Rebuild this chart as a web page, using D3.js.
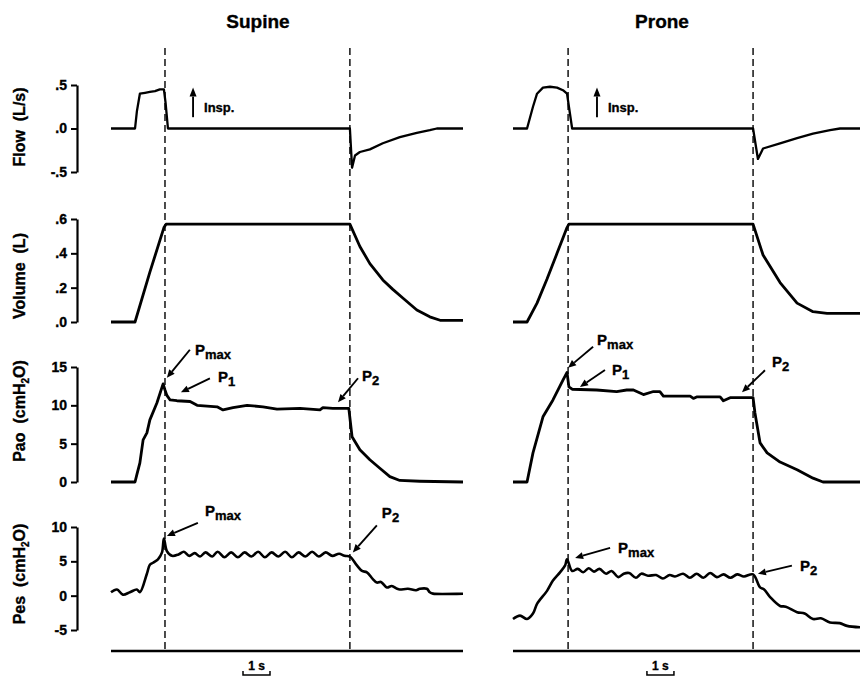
<!DOCTYPE html>
<html><head><meta charset="utf-8">
<script src="https://cdn.jsdelivr.net/npm/d3@7"></script>
<style>
body{margin:0;background:#fff}
svg{display:block}
text{font-family:"Liberation Sans",Arial,Helvetica,sans-serif;font-weight:bold;fill:#000;stroke:#000;stroke-width:0.35px}
</style>
</head><body><svg id="c" width="860" height="678"></svg>
<script>
// ---------------- DATA ----------------
const positions = ["Supine", "Prone"];
const timeSpan = [13.04, 12.85];            // seconds shown per panel
const markTimes = [[2.0, 8.85], [2.04, 8.89]]; // end-inspiration, end-occlusion (s)
const scaleBarStart = [4.89, 4.96];          // 1 s scale bar start (s)

const flowTicks = [0.5, 0, -0.5], flowTickLabels = [".5", ".0", "-.5"];
const volumeTicks = [0.6, 0.4, 0.2, 0], volumeTickLabels = [".6", ".4", ".2", ".0"];
const paoTicks = [15, 10, 5, 0], paoTickLabels = ["15", "10", "5", "0"];
const pesTicks = [10, 5, 0, -5], pesTickLabels = ["10", "5", "0", "-5"];

// [time (s), value]
const supineFlow = [[0,0],[0.89,0],[0.96,0.2],[1.07,0.40],[1.26,0.41],[1.44,0.42],[1.63,0.43],[1.81,0.45],[1.96,0.45],[2.02,0.3],[2.11,0],[8.85,0],[8.93,-0.45],[9.04,-0.31],[9.22,-0.27],[9.59,-0.24],[10.07,-0.17],[10.70,-0.10],[11.33,-0.05],[11.81,-0.02],[12.07,0],[13.04,0]];
const proneFlow = [[0,0],[0.52,0],[0.74,0.25],[0.89,0.40],[1.11,0.47],[1.37,0.48],[1.63,0.47],[1.85,0.44],[2.0,0.40],[2.19,0],[8.89,0],[9.07,-0.35],[9.26,-0.23],[9.89,-0.17],[10.52,-0.11],[11.11,-0.06],[11.74,-0.02],[12.11,0],[12.85,0]];

const supineVolume = [[0,0],[0.89,0],[1.44,0.29],[1.96,0.55],[2.04,0.57],[8.85,0.57],[9.22,0.44],[9.59,0.34],[10.07,0.245],[10.44,0.19],[10.81,0.14],[11.33,0.07],[11.81,0.03],[12.19,0.01],[13.04,0.01]];
const proneVolume = [[0,0],[0.52,0],[0.89,0.11],[1.26,0.25],[1.63,0.40],[1.85,0.49],[2.0,0.55],[2.07,0.57],[8.89,0.57],[9.26,0.39],[9.89,0.23],[10.52,0.11],[11.11,0.06],[11.63,0.05],[12.85,0.05]];

const supinePao = [[0,0],[0.89,0],[0.96,1.0],[1.07,2.5],[1.19,5.5],[1.33,6.4],[1.44,8.1],[1.70,10.3],[1.93,12.8],[2.0,12.0],[2.07,11.3],[2.19,10.7],[2.44,10.6],[2.93,10.5],[3.19,10.0],[3.93,9.8],[4.15,9.4],[4.52,9.7],[5.04,10.0],[5.63,9.8],[6.15,9.5],[7.0,9.6],[7.74,9.4],[7.85,9.7],[8.22,9.6],[8.81,9.6],[8.93,5.9],[9.22,4.2],[9.59,2.9],[9.96,1.8],[10.33,0.7],[10.70,0.2],[11.44,0.1],[13.04,0]];
const pronePao = [[0,0],[0.52,0],[0.74,3.8],[1.11,8.5],[1.48,10.7],[1.85,13.3],[2.0,14.3],[2.07,12.4],[2.19,12.1],[3.10,12.0],[3.84,11.8],[4.21,12.0],[4.46,12.0],[4.83,11.4],[5.2,11.8],[5.44,11.8],[5.57,11.2],[6.56,11.2],[6.68,10.9],[6.80,11.1],[7.67,11.1],[7.79,10.6],[8.04,11.0],[8.89,11.0],[8.96,9.0],[9.15,5.1],[9.41,3.8],[9.89,2.6],[10.52,1.6],[11.11,0.5],[11.48,0],[12.85,0]];

const supinePes = [[0,0.5],[0.22,0.9],[0.44,0.15],[0.70,0.5],[0.96,0.9],[1.07,0.5],[1.33,3.2],[1.44,4.5],[1.56,4.8],[1.74,5.3],[1.89,6.3],[1.96,8.3],[2.07,6.5],[2.26,5.8],[2.5,6.0],[2.7,6.4],[2.9,5.8],[3.1,6.2],[3.3,5.7],[3.5,6.3],[3.75,5.7],[3.95,6.4],[4.2,5.6],[4.45,6.3],[4.7,5.6],[4.95,6.3],[5.2,5.7],[5.45,6.4],[5.7,5.6],[5.95,6.3],[6.2,5.7],[6.45,6.4],[6.7,5.6],[6.95,6.3],[7.2,5.7],[7.45,6.4],[7.7,5.7],[7.95,6.3],[8.2,5.8],[8.45,6.1],[8.65,5.8],[8.85,5.7],[9.11,4.4],[9.3,3.6],[9.48,3.4],[9.7,2.4],[9.85,1.9],[10.0,2.0],[10.22,1.2],[10.4,1.4],[10.6,1.0],[10.7,0.9],[11.0,1.0],[11.3,0.8],[11.44,1.0],[11.7,1.0],[11.81,0.5],[11.93,0.3],[13.04,0.3]];
const pronePes = [[0,-3.4],[0.26,-2.9],[0.52,-3.4],[0.74,-2.6],[0.89,-1.2],[1.26,0.7],[1.48,2.2],[1.74,3.4],[1.93,4.4],[2.0,5.3],[2.19,3.6],[2.4,3.9],[2.6,3.4],[2.8,4.0],[3.0,3.5],[3.2,3.9],[3.45,3.2],[3.65,3.6],[3.9,2.7],[4.1,3.2],[4.3,3.3],[4.55,2.6],[4.75,3.2],[5.0,2.9],[5.3,3.0],[5.55,2.5],[5.8,3.0],[6.0,2.8],[6.3,3.2],[6.55,2.6],[6.8,3.2],[7.05,2.6],[7.3,3.3],[7.55,2.7],[7.8,3.1],[8.05,2.6],[8.3,3.1],[8.55,2.8],[8.89,3.1],[9.15,1.2],[9.3,0.9],[9.52,-0.2],[9.89,-1.5],[10.1,-1.6],[10.52,-2.4],[10.8,-2.6],[11.11,-3.4],[11.4,-3.3],[11.74,-3.9],[12.1,-4.0],[12.37,-4.4],[12.85,-4.6]];

// annotations: arrow tip in data units [time, value]
const inspNotes = [[3.04, 0.47, 0.13], [3.11, 0.47, 0.13]]; // [t, tip value, tail value]
const paoNotes = [
  [{label:"P", sub:"max", t:2.07, v:13.6}, {label:"P", sub:"1", t:2.59, v:11.7}, {label:"P", sub:"2", t:8.41, v:10.4}],
  [{label:"P", sub:"max", t:2.04, v:14.9}, {label:"P", sub:"1", t:2.48, v:12.4}, {label:"P", sub:"2", t:8.48, v:11.7}]
];
const pesNotes = [
  [{label:"P", sub:"max", t:2.07, v:8.7}, {label:"P", sub:"2", t:8.96, v:6.3}],
  [{label:"P", sub:"max", t:2.30, v:5.5}, {label:"P", sub:"2", t:9.07, v:3.2}]
];

// ---------------- LAYOUT ----------------
const svg = d3.select("#c");
const xRanges = [[111, 463], [513, 860]];
const xScales = positions.map((p, i) => d3.scaleLinear().domain([0, timeSpan[i]]).range(xRanges[i]));
const axisX = 77, baseY = 651, dashTop = 48;

const rows = [
  {name:"flow", label:["Flow  (L/s)"], ticks:flowTicks, tl:flowTickLabels, domain:[-0.5,0.5], range:[172,85], data:[supineFlow, proneFlow], labelY:127, sw:2.3, curve:d3.curveLinear},
  {name:"volume", label:["Volume  (L)"], ticks:volumeTicks, tl:volumeTickLabels, domain:[0,0.6], range:[322,219], data:[supineVolume, proneVolume], labelY:276, sw:2.8, curve:d3.curveLinear},
  {name:"pao", label:["Pao  (cmH","2","O)"], ticks:paoTicks, tl:paoTickLabels, domain:[0,15], range:[482,367], data:[supinePao, pronePao], labelY:411, sw:2.8, curve:d3.curveLinear},
  {name:"pes", label:["Pes  (cmH","2","O)"], ticks:pesTicks, tl:pesTickLabels, domain:[-5,10], range:[630,527], data:[supinePes, pronePes], labelY:574, sw:2.6, curve:d3.curveCatmullRom.alpha(0.5)}
];
rows.forEach(r => r.y = d3.scaleLinear().domain(r.domain).range(r.range));

// titles
positions.forEach((p, i) => {
  svg.append("text").attr("x", [258, 662][i]).attr("y", 28).attr("text-anchor", "middle")
    .style("font-size", "19px").text(p);
});

// dashed event lines
positions.forEach((p, i) => {
  markTimes[i].forEach(t => {
    svg.append("line").attr("x1", xScales[i](t)).attr("x2", xScales[i](t))
      .attr("y1", dashTop).attr("y2", baseY)
      .attr("stroke", "#000").attr("stroke-width", 1.4).attr("stroke-dasharray", "7,4");
  });
});

// axes + labels + traces
rows.forEach(r => {
  const ax = svg.append("g").attr("transform", `translate(${axisX},0)`)
    .call(d3.axisLeft(r.y).tickValues(r.ticks).tickFormat((d, i) => r.tl[i]).tickSize(6).tickSizeOuter(0).tickPadding(4));
  ax.attr("font-family", null).attr("font-size", null);
  ax.select(".domain").attr("stroke-width", 2.2).attr("stroke", "#000");
  ax.selectAll(".tick line").attr("stroke-width", 2).attr("stroke", "#000");
  ax.selectAll(".tick text").style("font-size", "14px").attr("fill", "#000");

  const lt = svg.append("text").attr("transform", `translate(25,${r.labelY}) rotate(-90)`)
    .attr("text-anchor", "middle").style("font-size", "16px").style("white-space", "pre");
  if (r.label.length === 1) lt.text(r.label[0]);
  else {
    lt.append("tspan").text(r.label[0]);
    lt.append("tspan").attr("dy", 4).style("font-size", "10px").text(r.label[1]);
    lt.append("tspan").attr("dy", -4).text(r.label[2]);
  }

  const line = d3.line().x(d => d[0]).y(d => r.y(d[1])).curve(r.curve);
  r.data.forEach((series, i) => {
    svg.append("path").datum(series.map(d => [xScales[i](d[0]), d[1]]))
      .attr("d", line).attr("fill", "none").attr("stroke", "#000")
      .attr("stroke-width", r.sw).attr("stroke-linejoin", "round").attr("stroke-linecap", "butt");
  });
});

// baselines (time axis)
positions.forEach((p, i) => {
  svg.append("line").attr("x1", xScales[i].range()[0]).attr("x2", xScales[i].range()[1])
    .attr("y1", baseY).attr("y2", baseY).attr("stroke", "#000").attr("stroke-width", 2.6);
  const x0 = xScales[i](scaleBarStart[i]), x1 = xScales[i](scaleBarStart[i] + 1);
  svg.append("path").attr("d", `M${x0},${baseY+20}V${baseY+24}H${x1}V${baseY+20}`)
    .attr("fill", "none").attr("stroke", "#000").attr("stroke-width", 1.5);
  svg.append("text").attr("x", (x0 + x1) / 2).attr("y", baseY + 19).attr("text-anchor", "middle")
    .style("font-size", "12px").text("1 s");
});

// arrow helper
function arrow(x1, y1, x2, y2, head) {
  const a = Math.atan2(y2 - y1, x2 - x1), L = head || 8, W = 3.5;
  const bx = x2 - L * Math.cos(a), by = y2 - L * Math.sin(a);
  svg.append("line").attr("x1", x1).attr("y1", y1).attr("x2", bx).attr("y2", by)
    .attr("stroke", "#000").attr("stroke-width", 1.9);
  svg.append("path").attr("d", `M${x2},${y2}L${bx - W*Math.sin(a)},${by + W*Math.cos(a)}L${bx + W*Math.sin(a)},${by - W*Math.cos(a)}Z`)
    .attr("fill", "#000");
}
function noteLabel(x, y, n) {
  const t = svg.append("text").attr("x", x).attr("y", y);
  t.append("tspan").style("font-size", "15px").text(n.label);
  t.append("tspan").attr("dy", 4).style("font-size", "13px").text(n.sub);
}

// Insp. arrows
const flowRow = rows[0];
inspNotes.forEach((n, i) => {
  const x = xScales[i](n[0]);
  arrow(x, flowRow.y(n[2]), x, flowRow.y(n[1]), 9);
  svg.append("text").attr("x", x + 11).attr("y", flowRow.y(n[1]) + 24).style("font-size", "13px").text("Insp.");
});

// pressure annotations: tail offsets and label offsets (pixels)
const paoOffsets = [
  [[23,-28,5,5],[29,-14,8,4],[20,-24,4,3]],
  [[25,-21,4,-2],[25,-17,7,5],[23,-22,7,-3]]
];
const pesOffsets = [
  [[31,-13,7,-7],[24,-27,5,-7]],
  [[35,-10,8,5],[34,-8,8,5]]
];
[[rows[2], paoNotes, paoOffsets], [rows[3], pesNotes, pesOffsets]].forEach(([r, notes, offs]) => {
  notes.forEach((list, i) => {
    list.forEach((n, k) => {
      const tx = xScales[i](n.t), ty = r.y(n.v);
      const o = offs[i][k];
      const sx = tx + o[0], sy = ty + o[1];
      arrow(sx, sy, tx, ty, 8);
      noteLabel(sx + o[2], sy + o[3], n);
    });
  });
});
</script>
</body></html>
